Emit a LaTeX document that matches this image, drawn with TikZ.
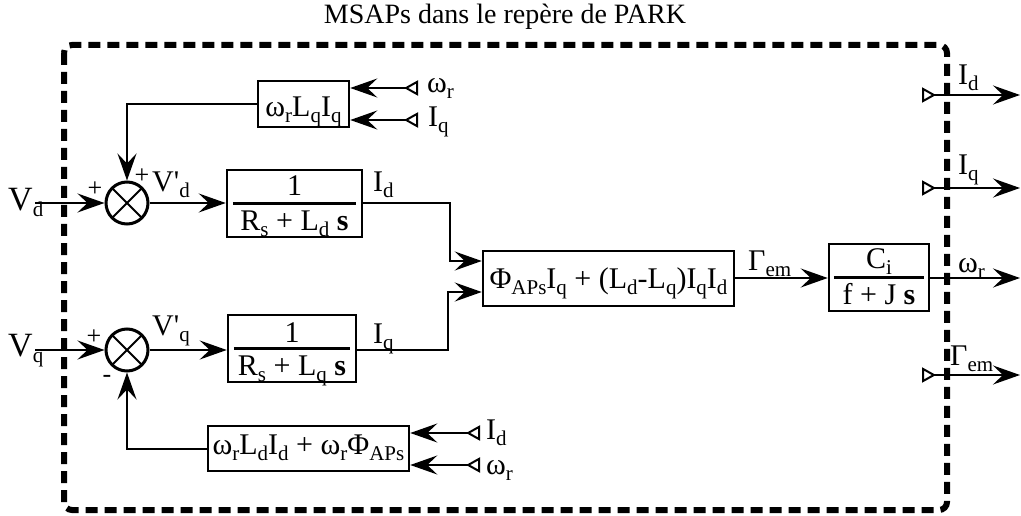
\documentclass[tikz,border=0pt]{standalone}
\usepackage{fontspec}
\setmainfont{Liberation Serif}
\usetikzlibrary{arrows.meta}
\newcommand\fs{\fontsize{30}{36}\selectfont}
\newcommand\sub[1]{\raisebox{-6pt}{\fontsize{21}{21}\selectfont #1}}
\begin{document}
\begin{tikzpicture}[x=1pt,y=-1pt,
  blk/.style={draw, line width=2.5pt, inner sep=0pt, font=\fs},
  sumc/.style={draw, circle, line width=3pt, minimum size=42pt, inner sep=0pt,
    path picture={\draw[line width=2pt] (path picture bounding box.north west)--(path picture bounding box.south east)
      (path picture bounding box.north east)--(path picture bounding box.south west);}},
  conn/.style={line width=2pt, -{Stealth[length=27pt,width=19pt,inset=10pt]}},
  port/.style={line width=2pt, {Triangle[open,reversed,length=14pt,width=15pt,line width=2pt]}-{Stealth[length=27pt,width=19pt,inset=10pt]}},
  lbl/.style={font=\fs, inner sep=0pt, anchor=base west},
  txt/.style={font=\fs, inner sep=0pt, anchor=base},
  sgn/.style={font=\fontsize{26}{26}\selectfont, inner sep=0pt},
  frac/.style={line width=2.5pt}
]
\useasboundingbox (0,0) rectangle (1021,516);
% frame and title
\draw[line width=6pt, dash pattern=on 12pt off 7pt, rounded corners=8pt] (64,45) rectangle (947,510);
\node[font=\fontsize{28}{34}\selectfont, inner sep=0pt, anchor=base] (title) at (505,24) {MSAPs dans le repère de PARK};

% summing junctions
\node[sumc] (s1) at (127,203) {};
\node[sumc] (s2) at (127,350) {};

% blocks
\node[blk, minimum width=91pt, minimum height=46pt, text height=28pt, text depth=2pt] (tb) at (303.5,104) {ω\sub{r}L\sub{q}I\sub{q}};
\node[blk, minimum width=135pt, minimum height=67pt] (b1) at (294.5,203.5) {};
\node[txt] (b1n) at (294.5,196) {1};
\node[txt] (b1d) at (294.5,230) {R\sub{s} + L\sub{d} \textbf{s}};
\draw[frac] ([xshift=7pt]b1.west) -- ([xshift=-7pt]b1.east);

\node[blk, minimum width=128pt, minimum height=67pt] (b2) at (292,348.5) {};
\node[txt] (b2n) at (292,342) {1};
\node[txt] (b2d) at (292,375) {R\sub{s} + L\sub{q} \textbf{s}};
\draw[frac] ([xshift=7pt]b2.west) -- ([xshift=-7pt]b2.east);

\node[blk, minimum width=201pt, minimum height=45pt, text height=21pt, text depth=9pt] (bb) at (308.5,448.5) {ω\sub{r}L\sub{d}I\sub{d} + ω\sub{r}Φ\sub{APs}};

\node[blk, minimum width=251pt, minimum height=55pt, text height=24.5pt, text depth=5.5pt] (m) at (608.5,278.5) {Φ\sub{APs}I\sub{q} + (L\sub{d}-L\sub{q})I\sub{q}I\sub{d}};

\node[blk, minimum width=100pt, minimum height=67pt] (bc) at (879,277.5) {};
\node[txt] (bcn) at (879,268) {C\sub{i}};
\node[txt] (bcd) at (879,304) {f + J \textbf{s}};
\draw[frac] ([xshift=6pt]bc.west) -- ([xshift=-6pt]bc.east);

% coordinates for free ends
\coordinate (vd) at (35,203);
\coordinate (vq) at (35,350);
\coordinate (tw) at (418,88);
\coordinate (ti) at (418,120);
\coordinate (bi) at (480,433);
\coordinate (bw) at (480,465);
\coordinate (wo) at (1020,278);
\coordinate (p1) at (922,95);  \coordinate (o1) at (1020,95);
\coordinate (p2) at (922,188); \coordinate (o2) at (1020,188);
\coordinate (p3) at (922,375); \coordinate (o3) at (1020,375);

% connectors
\draw[conn] (vd) -- (s1.west);
\draw[conn] (vq) -- (s2.west);
\draw[conn] (s1.east) -- (s1.east -| b1.west);
\draw[conn] (s2.east) -- (s2.east -| b2.west);
\draw[conn] (tb.west) -| (s1.north);
\draw[conn] (bb.west) -| (s2.south);
\draw[conn] (b1.east |- s1.east) -- (450,203) -- (450,261) -- (m.west |- 0,261);
\draw[conn] (b2.east |- s2.east) -- (448,350) -- (448,292) -- (m.west |- 0,292);
\draw[conn] (m.east |- 0,278) -- (bc.west |- 0,278);
\draw[conn] (bc.east |- 0,278) -- (wo);
\draw[port] (tw) -- (tb.east |- tw);
\draw[port] (ti) -- (tb.east |- ti);
\draw[port] (bi) -- (bb.east |- bi);
\draw[port] (bw) -- (bb.east |- bw);
\draw[port] (p1) -- (o1);
\draw[port] (p2) -- (o2);
\draw[port] (p3) -- (o3);

% signs
\node[sgn] (pl1) at (95,189) {+};
\node[sgn] (pl2) at (142,176) {+};
\node[sgn] (pl3) at (94,337) {+};
\node[sgn] (mi) at (107,379) {-};

% labels
\node[lbl, font=\fontsize{34}{40}\selectfont] (lvd) at (8,211) {V\sub{d}};
\node[lbl, font=\fontsize{34}{40}\selectfont] (lvq) at (8,356) {V\sub{q}};
\node[lbl] (lvpd) at (152,192) {V\textquotesingle\sub{d}};
\node[lbl] (lvpq) at (152,335) {V\textquotesingle\sub{q}};
\node[lbl] (lid) at (373,192) {I\sub{d}};
\node[lbl] (liq) at (373,343) {I\sub{q}};
\node[lbl] (lg) at (748,270) {Γ\sub{em}};
\node[lbl] (lwo) at (958,272) {ω\sub{r}};
\node[lbl] (ltw) at (427,93) {ω\sub{r}};
\node[lbl] (lti) at (428,127) {I\sub{q}};
\node[lbl] (lbi) at (486,439) {I\sub{d}};
\node[lbl] (lbw) at (486,474) {ω\sub{r}};
\node[lbl] (lo1) at (958,85) {I\sub{d}};
\node[lbl] (lo2) at (958,175) {I\sub{q}};
\node[lbl] (lo3) at (950,365) {Γ\sub{em}};
\end{tikzpicture}
\end{document}
